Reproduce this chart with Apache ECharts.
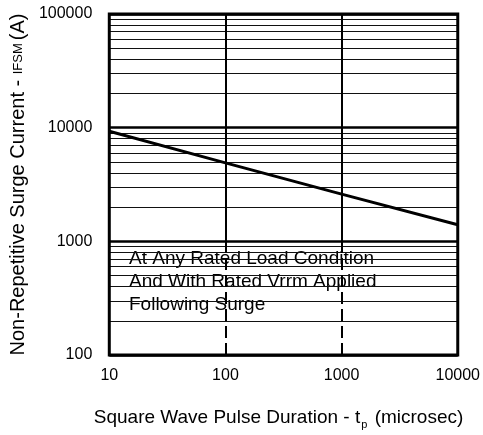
<!DOCTYPE html>
<html>
<head>
<meta charset="utf-8">
<script src="https://cdn.jsdelivr.net/npm/echarts@6/dist/echarts.min.js"></script>
<style>
	html, body { margin: 0; padding: 0; background: #fff; }
	#chart { width: 483px; height: 435px; }
</style>
</head>
<body>
<div id="chart"></div>
<script>
;(function(){
	'use strict';

	// pulse duration (microsec) and surge current (A)
	var pulseDuration = [10, 100, 1000, 10000];
	var surgeCurrent = [9300, 4900, 2600, 1400];

	// grid levels between decades
	var minorLevels = [200, 300, 400, 500, 600, 700, 800, 900,
		2000, 3000, 4000, 5000, 6000, 7000, 8000, 9000,
		20000, 30000, 40000, 50000, 60000, 70000, 80000, 90000];
	var xDecades = [100, 1000];

	var noteLines = ['At Any Rated Load Condition', 'And With Rated Vrrm Applied', 'Following Surge'];

	var font = 'Arial, "Liberation Sans", sans-serif';

	// horizontal minor lines (under the note)
	var hLines = minorLevels.map(function(v){
		return { yAxis: v };
	});

	// vertical decade lines (over the note), dashed in the lowest decade
	var vLines = [];
	xDecades.forEach(function(x){
		vLines.push([
			{ coord: [x, 1000], lineStyle: { color: '#000', width: 2, type: 'solid' } },
			{ coord: [x, 100000] }
		]);
		vLines.push([
			{ coord: [x, 100], lineStyle: { color: '#000', width: 2, type: [12, 5] } },
			{ coord: [x, 1000] }
		]);
	});

	var myChart = echarts.init(document.getElementById('chart'));
	var option = {
		animation: false,
		backgroundColor: '#fff',
		grid: {
			left: 107, right: 23, top: 14, bottom: 78,
			show: true, borderColor: '#000', borderWidth: 3, z: 10
		},
		xAxis: {
			type: 'log', logBase: 10, min: 10, max: 10000,
			axisLine: { show: false }, axisTick: { show: false },
			splitLine: { show: false },
			axisLabel: {
				color: '#000', fontSize: 16, fontFamily: font, margin: 13,
				formatter: function(v){ return String(Math.round(v)); }
			},
			name: '{m|Square Wave Pulse Duration - t}{s|p}{e| (microsec)}',
			nameLocation: 'middle', nameGap: 50,
			nameTextStyle: {
				rich: {
					m: { fontSize: 19, fontFamily: font, color: '#000' },
					s: { fontSize: 11, fontFamily: font, color: '#000', padding: [14, 2, 0, 1] },
					e: { fontSize: 19, fontFamily: font, color: '#000', padding: [0, 10, 0, 0] }
				}
			}
		},
		yAxis: {
			type: 'log', logBase: 10, min: 100, max: 100000,
			axisLine: { show: false }, axisTick: { show: false },
			splitLine: { show: true, lineStyle: { color: '#000', width: 2.5 } },
			axisLabel: {
				color: '#000', fontSize: 16, fontFamily: font, margin: 17,
				formatter: function(v){ return String(Math.round(v)); }
			},
			name: '{m|Non-Repetitive Surge Current - }{s|IFSM}{m|(A)}',
			nameLocation: 'middle', nameGap: 75,
			nameTextStyle: {
				rich: {
					m: { fontSize: 20, fontFamily: font, color: '#000' },
					s: { fontSize: 13, fontFamily: font, color: '#000', padding: [0, 3, 0, 0] }
				}
			}
		},
		series: [{
			type: 'line',
			data: [],
			silent: true,
			z: 1,
			markLine: {
				silent: true, symbol: 'none', animation: false,
				label: { show: false },
				lineStyle: { color: '#111', width: 1, type: 'solid' },
				data: hLines
			}
		}, {
			type: 'line',
			data: [],
			silent: true,
			z: 6,
			markLine: {
				silent: true, symbol: 'none', animation: false,
				label: { show: false },
				data: vLines
			}
		}, {
			type: 'line',
			data: pulseDuration.map(function(x, i){ return [x, surgeCurrent[i]]; }),
			showSymbol: false,
			z: 7,
			lineStyle: { color: '#000', width: 3 }
		}],
		graphic: noteLines.map(function(t, i){
			return {
				type: 'text', left: 127, top: 247 + i * 23, z: 3,
				style: {
					text: t, fill: '#000', font: '19px ' + font,
					backgroundColor: '#fff', padding: [2, 2, 2, 2]
				}
			};
		})
	};
	myChart.setOption(option);
})();
</script>
</body>
</html>
